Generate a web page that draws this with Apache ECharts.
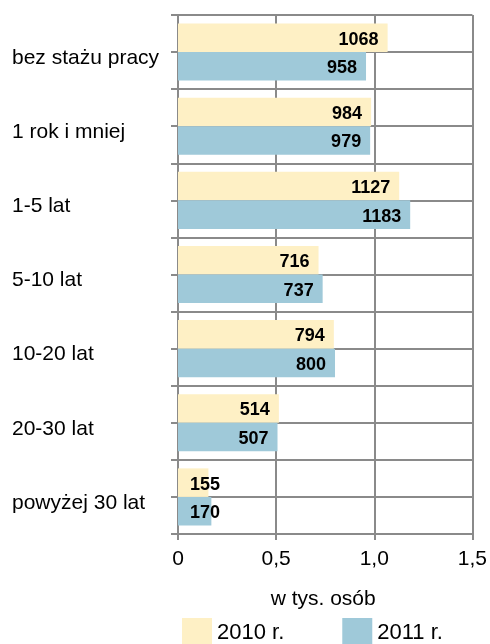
<!DOCTYPE html>
<html>
<head>
<meta charset="utf-8">
<script src="https://cdn.jsdelivr.net/npm/echarts@6/dist/echarts.min.js"></script>
<style>html,body{margin:0;padding:0;background:#fff}#c{width:490px;height:644px}</style>
</head>
<body>
<div id="c"></div>
<script>
const categories = ['bez stażu pracy', '1 rok i mniej', '1-5 lat', '5-10 lat', '10-20 lat', '20-30 lat', 'powyżej 30 lat'];
const values2010 = [1068, 984, 1127, 716, 794, 514, 155];
const values2011 = [958, 979, 1183, 737, 800, 507, 170];
const seriesNames = ['2010 r.', '2011 r.'];
const axisName = 'w tys. osób';

const FONT = '"Liberation Sans", Arial, sans-serif';
const GRID = '#8a8a8a';

function mkData(arr) {
  return arr.map(v => v < 300
    ? { value: v, label: { position: [12, '50%'], align: 'left', verticalAlign: 'middle' } }
    : v);
}

const labelCfg = {
  show: true, position: 'insideRight', distance: 9, offset: [0, 2],
  color: '#000', fontWeight: 'bold', fontSize: 18, fontFamily: FONT
};

const chart = echarts.init(document.getElementById('c'));
chart.setOption({
  animation: false,
  backgroundColor: '#fff',
  grid: { left: 178, right: 12, top: 15, bottom: 110 },
  xAxis: {
    type: 'value', min: 0, max: 1500, interval: 500,
    name: axisName, nameLocation: 'middle', nameGap: 55,
    nameTextStyle: { color: '#000', fontSize: 21, fontFamily: FONT, padding: [0, 4, 0, 0] },
    axisLine: { show: true, lineStyle: { color: GRID, width: 2 } },
    axisTick: { show: true, length: 6, lineStyle: { color: GRID, width: 2 } },
    splitLine: { show: true, lineStyle: { color: GRID, width: 2 } },
    axisLabel: {
      color: '#000', fontSize: 21, fontFamily: FONT, margin: 15,
      formatter: v => v === 0 ? '0' : (v / 1000).toFixed(1).replace('.', ',')
    }
  },
  yAxis: [
    {
      type: 'category', data: categories, inverse: true, position: 'left',
      axisLine: { show: true, lineStyle: { color: GRID, width: 2 } },
      axisTick: { show: false },
      splitLine: { show: false },
      axisLabel: {
        align: 'left', margin: 166,
        formatter: v => '{l|' + v + '}',
        rich: { l: { color: '#000', fontSize: 21, fontFamily: FONT, padding: [12, 0, 0, 0] } }
      }
    },
    {
      type: 'value', min: 0, max: 14, interval: 1, position: 'left',
      axisLine: { show: false },
      axisTick: { show: true, length: 7, lineStyle: { color: GRID, width: 2 } },
      splitLine: { show: true, lineStyle: { color: GRID, width: 2 } },
      axisLabel: { show: false }
    }
  ],
  legend: {
    left: 182, top: 618, padding: 0, itemWidth: 30, itemHeight: 30, itemGap: 58,
    icon: 'rect',
    textStyle: { color: '#000', fontSize: 22, fontFamily: FONT, padding: [4, 0, 0, 0] },
    data: seriesNames
  },
  series: [
    {
      name: seriesNames[0], type: 'bar', yAxisIndex: 0, data: mkData(values2010),
      itemStyle: { color: '#FEF0C5' }, barGap: '0%', barCategoryGap: '23%',
      label: labelCfg
    },
    {
      name: seriesNames[1], type: 'bar', yAxisIndex: 0, data: mkData(values2011),
      itemStyle: { color: '#9FC9D9' }, barGap: '0%', barCategoryGap: '23%',
      label: labelCfg
    }
  ]
});
</script>
</body>
</html>
